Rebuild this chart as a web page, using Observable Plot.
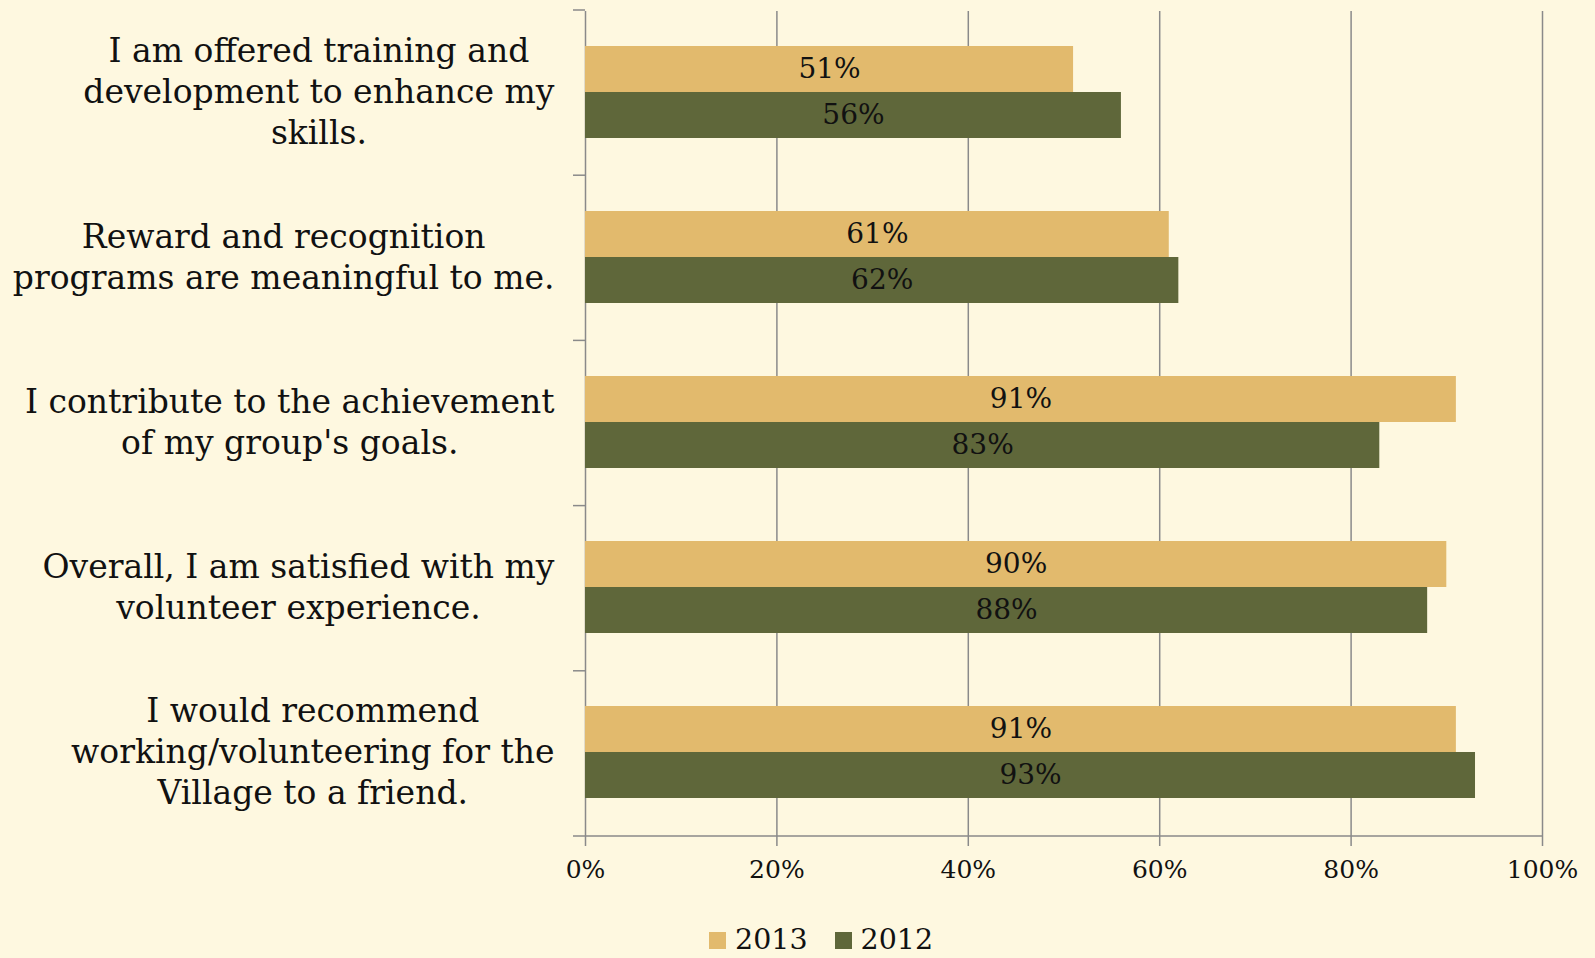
<!DOCTYPE html>
<html><head><meta charset="utf-8">
<script src="https://cdn.jsdelivr.net/npm/d3@7"></script>
<script src="https://cdn.jsdelivr.net/npm/@observablehq/plot@0.6"></script>
<style>
html,body{margin:0;padding:0;background:#FEF8E0;}
#wrap{position:relative;width:1595px;height:958px;overflow:hidden;font-family:"DejaVu Serif",serif;}
#legend{position:absolute;left:709px;top:926px;display:flex;align-items:center;font-size:28.5px;color:#111;line-height:28px;}
#legend .item{display:flex;align-items:center;margin-right:27px;}
#legend .sw{width:17px;height:17px;display:inline-block;margin-right:9px;}
</style></head><body>
<div id="wrap"><div id="chart"></div><div id="legend"></div></div>
<script>
const categories = [
  "I am offered training and\ndevelopment to enhance my\nskills.",
  "Reward and recognition\nprograms are meaningful to me.",
  "I contribute to the achievement\nof my group's goals.",
  "Overall, I am satisfied with my\nvolunteer experience.",
  "I would recommend\nworking/volunteering for the\nVillage to a friend."
];
const years = ["2013", "2012"];
const values2013 = [51, 61, 91, 90, 91];
const values2012 = [56, 62, 83, 88, 93];
const xTicks = [0, 20, 40, 60, 80, 100];
const colors = ["#E2BA6D", "#5F673A"];

const FONT = "DejaVu Serif";
const GRAY = "#8A8A8A";

const data = categories.flatMap((c, i) => [
  {category: c, year: years[0], value: values2013[i]},
  {category: c, year: years[1], value: values2012[i]}
]);

function measure(text, size) {
  const svg = d3.select("body").append("svg").attr("width", 10).attr("height", 10)
    .style("position", "absolute").style("left", "-9999px");
  const t = svg.append("text").attr("font-family", FONT).attr("font-size", size).text(text);
  const w = t.node().getComputedTextLength();
  svg.remove();
  return w;
}

const LABEL_SIZE = 33;
const labelMarks = categories.map(c => {
  const w = d3.max(c.split("\n"), l => measure(l, LABEL_SIZE));
  return Plot.text([c], {
    fy: d => d, text: d => d, frameAnchor: "left", textAnchor: "middle",
    dx: -(31 + w / 2), dy: -4, fontSize: LABEL_SIZE, lineHeight: 1.24, fill: "#111"
  });
});

const chart = Plot.plot({
  width: 1595,
  height: 900,
  marginLeft: 585,
  marginRight: 53,
  marginTop: 10,
  marginBottom: 64,
  style: {fontFamily: FONT, background: "transparent", overflow: "visible"},
  x: {domain: [0, 100], axis: null},
  fy: {domain: categories, padding: 0, axis: null},
  y: {domain: years, paddingInner: 0, paddingOuter: 0.763, align: 0.485, axis: null},
  color: {domain: years, range: colors},
  marks: [
    Plot.gridX({ticks: xTicks.slice(1), stroke: GRAY, strokeOpacity: 1, strokeWidth: 1.5}),
    Plot.ruleX([0], {stroke: GRAY, strokeWidth: 1.5}),
    Plot.barX(data, {fy: "category", y: "year", x: "value", fill: "year"}),
    Plot.text(data, {fy: "category", y: "year", x: d => d.value / 2, text: d => d.value + "%", fontSize: 28, fill: "#111"}),
    ...labelMarks,
    Plot.axisX(xTicks, {anchor: "bottom", label: null, tickSize: 10, tickPadding: 14, tickFormat: d => d + "%",
      fontSize: 25, stroke: GRAY, strokeWidth: 1.5, fill: "#111"})
  ]
});
document.getElementById("chart").appendChild(chart);

// Excel-style category boundary ticks on the left axis and the bottom axis line,
// positioned with the plot's own x and fy scales.
{
  const sx = chart.scale("x");
  const sfy = chart.scale("fy");
  const x = d3.scaleLinear(sx.domain, sx.range);
  const fy = d3.scaleBand(sfy.domain, sfy.range).paddingInner(0).paddingOuter(0);
  const ys = fy.domain().map(d => fy(d));
  ys.push(ys[ys.length - 1] + fy.bandwidth());
  const svg = d3.select(chart.tagName.toLowerCase() === "svg" ? chart : chart.querySelector("svg"));
  const g = svg.append("g").attr("stroke", GRAY).attr("stroke-width", 1.5);
  const x0 = x(xTicks[0]);
  for (const y of ys) {
    g.append("line").attr("x1", x0 - 12).attr("x2", x0).attr("y1", y).attr("y2", y);
  }
  const yb = ys[ys.length - 1];
  g.append("line").attr("x1", x0).attr("x2", x(xTicks[xTicks.length - 1])).attr("y1", yb).attr("y2", yb);
}

const legend = d3.select("#legend");
years.forEach((y, i) => {
  const it = legend.append("div").attr("class", "item");
  it.append("span").attr("class", "sw").style("background", colors[i]);
  it.append("span").text(y);
});
</script>
</body></html>
